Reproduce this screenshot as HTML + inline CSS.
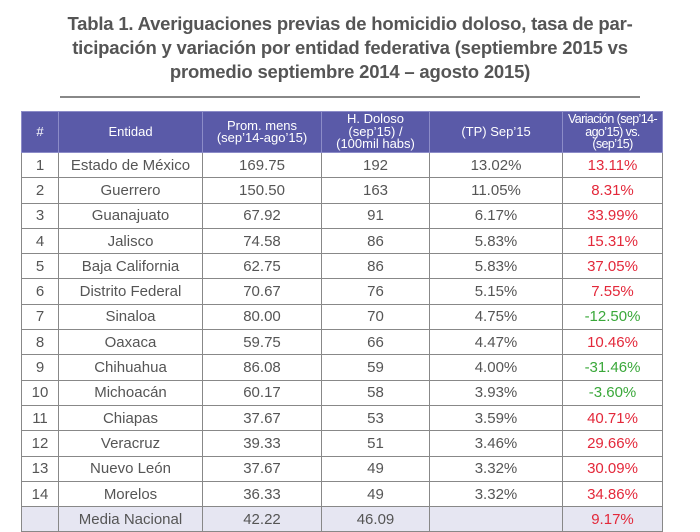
<!DOCTYPE html>
<html><head><meta charset="utf-8"><style>
body{margin:0;width:700px;height:532px;background:#fff;overflow:hidden;font-family:"Liberation Sans",sans-serif;position:relative}
.t{position:absolute;left:0;width:700px;text-align:center;font-weight:bold;font-size:18.5px;color:#555;line-height:24px;top:12px;letter-spacing:-0.2px}
.rule{position:absolute;left:60px;width:580px;top:96px;height:2px;background:#888}
table{position:absolute;left:21px;top:111px;width:641px;border-collapse:collapse;table-layout:fixed}
td,th{border:1.5px solid #888;text-align:center;padding:0;font-size:15px;color:#555;height:24.3px;white-space:nowrap;overflow:hidden}
th{background:#5a5aa8;color:#fff;font-weight:normal;font-size:13px;line-height:12.5px;height:40px;border-color:#8c8cc8}
th.n{letter-spacing:-0.6px;font-size:12.5px}
.r{color:#e3283a}.g{color:#3aa83a}
tr.f td{background:#e6e6f2}
</style></head><body>
<div class="t">Tabla 1. Averiguaciones previas de homicidio doloso, tasa de par-<br>ticipación y variación por entidad federativa (septiembre 2015 vs<br>promedio septiembre 2014 – agosto 2015)</div>
<div class="rule"></div>
<table>
<colgroup><col style="width:37px"><col style="width:144px"><col style="width:119px"><col style="width:108px"><col style="width:133px"><col style="width:100px"></colgroup>
<tr><th>#</th><th>Entidad</th><th>Prom. mens<br>(sep’14-ago’15)</th><th>H. Doloso<br>(sep’15) /<br>(100mil habs)</th><th>(TP) Sep’15</th><th class="n">Variación (sep’14-<br>ago’15) vs.<br>(sep’15)</th></tr>
<tr><td>1</td><td>Estado de México</td><td>169.75</td><td>192</td><td>13.02%</td><td class="r">13.11%</td></tr>
<tr><td>2</td><td>Guerrero</td><td>150.50</td><td>163</td><td>11.05%</td><td class="r">8.31%</td></tr>
<tr><td>3</td><td>Guanajuato</td><td>67.92</td><td>91</td><td>6.17%</td><td class="r">33.99%</td></tr>
<tr><td>4</td><td>Jalisco</td><td>74.58</td><td>86</td><td>5.83%</td><td class="r">15.31%</td></tr>
<tr><td>5</td><td>Baja California</td><td>62.75</td><td>86</td><td>5.83%</td><td class="r">37.05%</td></tr>
<tr><td>6</td><td>Distrito Federal</td><td>70.67</td><td>76</td><td>5.15%</td><td class="r">7.55%</td></tr>
<tr><td>7</td><td>Sinaloa</td><td>80.00</td><td>70</td><td>4.75%</td><td class="g">-12.50%</td></tr>
<tr><td>8</td><td>Oaxaca</td><td>59.75</td><td>66</td><td>4.47%</td><td class="r">10.46%</td></tr>
<tr><td>9</td><td>Chihuahua</td><td>86.08</td><td>59</td><td>4.00%</td><td class="g">-31.46%</td></tr>
<tr><td>10</td><td>Michoacán</td><td>60.17</td><td>58</td><td>3.93%</td><td class="g">-3.60%</td></tr>
<tr><td>11</td><td>Chiapas</td><td>37.67</td><td>53</td><td>3.59%</td><td class="r">40.71%</td></tr>
<tr><td>12</td><td>Veracruz</td><td>39.33</td><td>51</td><td>3.46%</td><td class="r">29.66%</td></tr>
<tr><td>13</td><td>Nuevo León</td><td>37.67</td><td>49</td><td>3.32%</td><td class="r">30.09%</td></tr>
<tr><td>14</td><td>Morelos</td><td>36.33</td><td>49</td><td>3.32%</td><td class="r">34.86%</td></tr>
<tr class="f"><td></td><td>Media Nacional</td><td>42.22</td><td>46.09</td><td></td><td class="r">9.17%</td></tr>
</table>
</body></html>
